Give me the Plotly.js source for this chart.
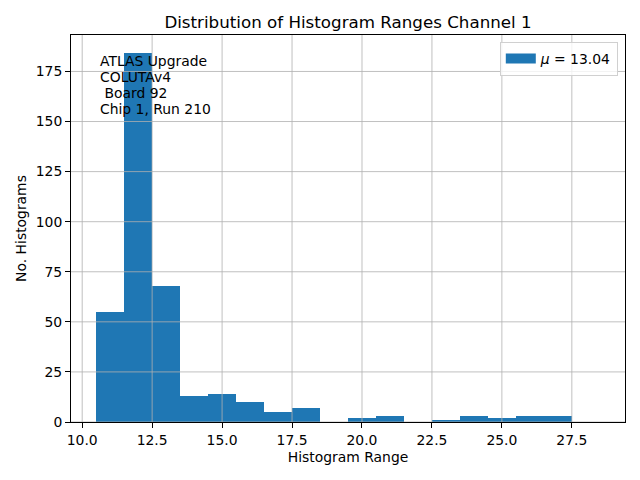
<!DOCTYPE html>
<html>
<head>
<meta charset="utf-8">
<script src="https://cdn.plot.ly/plotly-3.0.1.min.js"></script>
<style>html,body{margin:0;padding:0;background:#fff;}#chart{width:640px;height:480px;}</style>
</head>
<body>
<div id="chart"></div>
<script>
// Histogram bin edges (left) and counts
const binLefts = [10.5, 11.5, 12.5, 13.5, 14.5, 15.5, 16.5, 17.5, 18.5, 19.5, 20.5, 21.5, 22.5, 23.5, 24.5, 25.5, 26.5, 27.5];
const counts   = [55, 184, 68, 13, 14, 10, 5, 7, 0, 2, 3, 0, 1, 3, 2, 3, 3, 0];
const binWidth = 1.0;
const legendLabel = '<i>μ</i> = 13.04';
const xTicks = [10.0, 12.5, 15.0, 17.5, 20.0, 22.5, 25.0, 27.5];
const yTicks = [0, 25, 50, 75, 100, 125, 150, 175];
const infoLines = ['ATLAS Upgrade', 'COLUTAv4', '\u00a0Board 92', 'Chip 1, Run 210'];

const centers = binLefts.map(v => v + binWidth / 2);
const xMin = binLefts[0], xMax = binLefts[binLefts.length - 1] + binWidth;
const xPad = (xMax - xMin) * 0.05;
const yMax = Math.max(...counts) * 1.05;
const barColor = '#1f77b4';

const font = {family: 'DejaVu Sans, sans-serif', color: '#000'};

const gridShapes = [];
xTicks.forEach(t => gridShapes.push({type: 'line', xref: 'x', yref: 'paper', x0: t, x1: t, y0: 0, y1: 1, layer: 'above', line: {color: '#b0b0b0', width: 0.8}}));
yTicks.forEach(t => gridShapes.push({type: 'line', xref: 'paper', yref: 'y', x0: 0, x1: 1, y0: t, y1: t, layer: 'above', line: {color: '#b0b0b0', width: 0.8}}));

const trace = {
  type: 'bar',
  x: centers,
  y: counts,
  width: binWidth,
  name: legendLabel,
  marker: {color: barColor, line: {width: 0}},
  showlegend: false,
  hoverinfo: 'x+y'
};

// legend-only entry to get a wide rectangular patch like matplotlib
const legendEntry = {
  type: 'scatter', mode: 'lines',
  x: [null], y: [null],
  name: legendLabel,
  line: {color: barColor, width: 10},
  showlegend: true,
  hoverinfo: 'skip'
};

const plotTop = 35, lineStep = 16;
const annotations = infoLines.map((txt, i) => ({
  xref: 'paper', yref: 'paper', x: 0.049, xanchor: 'left',
  y: 1 - (61 + i * lineStep - plotTop) / 387, yanchor: 'middle',
  align: 'left', showarrow: false,
  text: txt,
  font: Object.assign({size: 13.9}, font)
}));

const layout = {
  width: 640, height: 480,
  margin: {l: 71, r: 15, t: 35, b: 58},
  paper_bgcolor: '#fff', plot_bgcolor: '#fff',
  font: Object.assign({size: 13.9}, font),
  title: {text: 'Distribution of Histogram Ranges Channel 1', font: Object.assign({size: 16.7}, font), x: 0.5, xanchor: 'center', xref: 'paper', y: 1 - 22/480, yanchor: 'middle'},
  bargap: 0,
  showlegend: true,
  legend: {x: 0.987, xanchor: 'right', y: 0.982, yanchor: 'top', bgcolor: 'rgba(255,255,255,0.8)', bordercolor: '#d0d0d0', borderwidth: 1, font: Object.assign({size: 13.9}, font), tracegroupgap: 0},
  xaxis: {
    range: [xMin - xPad, xMax + xPad],
    tickvals: xTicks, ticktext: xTicks.map(v => v.toFixed(1)),
    ticks: 'outside', ticklen: 5, tickwidth: 1, tickcolor: '#000',
    showgrid: false, zeroline: false,
    showline: true, linecolor: '#000', linewidth: 1, mirror: true,
    tickfont: Object.assign({size: 13.9}, font),
    title: {text: 'Histogram Range', font: Object.assign({size: 13.9}, font), standoff: 5}
  },
  yaxis: {
    range: [0, yMax],
    tickvals: yTicks, ticktext: yTicks.map(String),
    ticks: 'outside', ticklen: 5, tickwidth: 1, tickcolor: '#000',
    showgrid: false, zeroline: false,
    showline: true, linecolor: '#000', linewidth: 1, mirror: true,
    tickfont: Object.assign({size: 13.9}, font),
    title: {text: 'No. Histograms', font: Object.assign({size: 13.9}, font), standoff: 5}
  },
  shapes: gridShapes,
  annotations: annotations
};

Plotly.newPlot('chart', [trace, legendEntry], layout, {displayModeBar: false, staticPlot: true});
</script>
</body>
</html>
